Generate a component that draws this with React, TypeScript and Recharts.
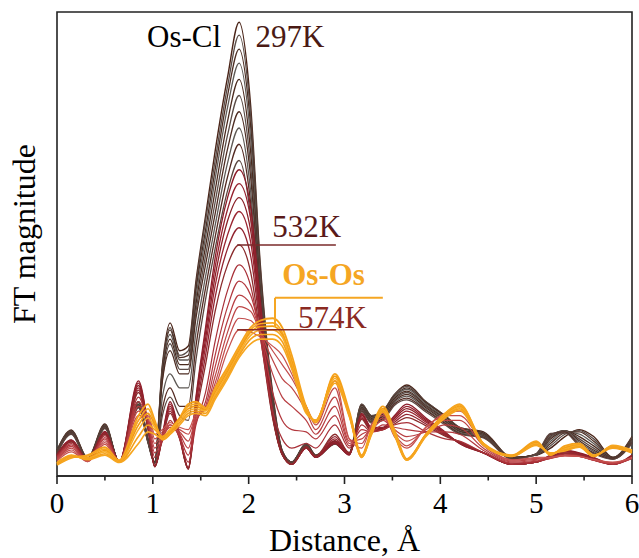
import React from 'react';
import { LineChart, Line, XAxis, YAxis, ReferenceArea, ReferenceLine, ReferenceDot } from 'recharts';

// distance grid, Å
const R = [0, 0.15, 0.32, 0.5, 0.65, 0.85, 0.95, 1.02, 1.1, 1.18, 1.28, 1.37, 1.45, 1.55, 1.65, 1.78, 1.9, 2.02, 2.12, 2.25, 2.35, 2.45, 2.6, 2.7, 2.9, 3.05, 3.18, 3.28, 3.4, 3.52, 3.65, 3.85, 4.05, 4.2, 4.45, 4.75, 5.0, 5.15, 5.3, 5.45, 5.6, 5.8, 6.0];

// Os-Cl dominated spectra (297K upward)
const brown1 = [5.6, 9.9, 3.9, 11.2, 3.0, 16, 8, 3, 24, 33, 27, 28, 42, 56, 70, 86, 97.8, 80, 46, 18, 5.5, 3, 7, 4.5, 7.5, 5, 15.5, 13, 14, 17.5, 19.6, 16, 13, 10.5, 9.5, 4, 4.5, 6, 8.5, 10, 8.5, 4, 8.5];
const brown2 = [5.5, 9.8, 3.8, 11, 3, 16, 8, 3, 23.5, 32, 26, 27, 41, 55, 68, 84, 95, 78, 45, 17.5, 5.5, 3, 7, 4.5, 7.5, 5, 15.5, 13, 14, 17.5, 19.3, 16, 13, 10.5, 9.3, 4, 4.5, 6.5, 9, 9.8, 8, 4, 8.3];
const brown3 = [5.4, 9.7, 3.8, 10.9, 3, 15.5, 7.8, 3, 23, 31.5, 25.5, 26, 40, 53, 66, 82, 92, 75.5, 43.5, 17, 5.3, 3, 6.8, 4.4, 7.3, 5, 15.2, 12.8, 13.8, 17.2, 19, 15.8, 12.8, 10.3, 9.2, 4, 4.5, 7, 9.3, 9.5, 7.5, 4, 8];
const brown4 = [5.3, 9.6, 3.7, 10.8, 3, 15.5, 7.7, 3, 22.5, 30.5, 25, 25, 38.5, 51.5, 64, 79.5, 89, 73, 42, 16.8, 5.2, 3, 6.8, 4.3, 7.3, 4.9, 15, 12.6, 13.5, 17, 18.7, 15.5, 12.5, 10.1, 9, 3.9, 4.5, 7.5, 9.5, 9, 7, 3.9, 7.8];
const brown5 = [5.2, 9.5, 3.7, 10.7, 3, 15.3, 7.6, 3, 22, 29.5, 24, 24, 37, 49.5, 61.5, 76.5, 85.5, 70, 40.5, 16.5, 5.1, 3, 6.7, 4.3, 7.2, 4.9, 14.8, 12.4, 13.3, 16.7, 18.3, 15.2, 12.3, 10, 8.9, 3.9, 4.6, 8, 9.7, 8.5, 6.5, 3.9, 7.6];
const brown6 = [5.1, 9.4, 3.6, 10.6, 3, 15.2, 7.5, 2.9, 21, 28.5, 23, 23, 35.5, 47.5, 59, 73.5, 82, 67, 39, 16.2, 5, 3, 6.7, 4.2, 7.1, 4.8, 14.6, 12.2, 13, 16.4, 18, 15, 12, 9.8, 8.8, 3.8, 4.6, 8.3, 9.8, 8, 6, 3.8, 7.5];
const brown7 = [5, 9.3, 3.6, 10.5, 3, 15, 7.4, 2.9, 20.5, 27, 22, 22, 34, 45.5, 56.5, 70.5, 78.5, 64.5, 37.5, 16, 5, 3, 6.6, 4.2, 7.1, 4.8, 14.4, 12, 12.8, 16.1, 17.6, 14.7, 11.8, 9.6, 8.6, 3.8, 4.7, 8.6, 9.8, 7.6, 5.6, 3.8, 7.3];
const brown8 = [4.9, 9.2, 3.5, 10.4, 3, 15, 7.3, 2.8, 17, 22, 19, 19, 31, 43, 54, 67.5, 75, 61.5, 36, 15.8, 4.9, 3, 6.6, 4.1, 7, 4.7, 14.2, 11.8, 12.5, 15.8, 17.2, 14.4, 11.5, 9.4, 8.5, 3.7, 4.7, 8.8, 9.7, 7.2, 5.3, 3.7, 7.2];
const brown9 = [4.8, 9.1, 3.5, 10.3, 3, 14.8, 7.2, 2.8, 14.5, 19, 15, 15, 28, 40.5, 51.5, 64.5, 71.5, 59, 34.5, 15.5, 4.8, 3, 6.5, 4.1, 7, 4.7, 14, 11.6, 12.3, 15.5, 16.8, 14.1, 11.3, 9.2, 8.3, 3.7, 4.8, 9, 9.5, 6.8, 5, 3.7, 7.1];
const brown10 = [4.7, 9, 3.4, 10.2, 3, 14.7, 7.1, 2.7, 13, 17, 13, 12, 25, 38, 49, 61.5, 68, 56, 33, 15.2, 4.7, 3, 6.5, 4, 6.9, 4.6, 13.8, 11.4, 12, 15.2, 16.4, 13.8, 11, 9, 8.2, 3.6, 4.8, 9.2, 9.3, 6.5, 4.8, 3.6, 7];

// up to 532K, then the transition towards 574K
const red1 = [4.6, 7.8, 3.5, 9.6, 3, 20.5, 11, 2.2, 9, 16, 9, 1.8, 17, 32, 47, 60, 66, 58, 38, 14, 5, 2.5, 6, 4, 7, 4.5, 13.5, 10.5, 10.5, 13, 15.5, 12.5, 9.5, 7, 5, 2.5, 3, 4.5, 5.5, 5, 4, 2.5, 4.5];
const red2 = [4.5, 7.7, 3.4, 9.5, 3, 20, 10.8, 2.1, 8.8, 15.5, 8.8, 1.7, 16.5, 31, 45, 57.5, 63, 55.5, 36.5, 13.5, 4.8, 2.5, 6, 4, 7.3, 4.6, 13.3, 10.3, 10.3, 12.7, 15, 12.2, 9.3, 7, 5, 2.5, 3, 4.4, 5.4, 4.9, 3.9, 2.5, 4.4];
const red3 = [4.5, 7.6, 3.4, 9.4, 3, 19.5, 10.6, 2.1, 8.6, 15, 8.6, 1.6, 16, 29.5, 43, 55, 60, 53, 35, 13.2, 4.7, 2.5, 6, 4.1, 7.6, 4.7, 13.1, 10.2, 10.2, 12.4, 14.5, 11.9, 9.1, 7.1, 5, 2.5, 3, 4.3, 5.3, 4.8, 3.8, 2.5, 4.3];
const red4 = [4.4, 7.5, 3.4, 9.3, 3, 19, 10.4, 2, 8.4, 14.5, 8.4, 1.6, 15, 28, 41, 52, 57, 50.5, 33.5, 13, 4.7, 2.5, 6, 4.1, 8, 4.8, 12.8, 10, 10, 12, 14, 11.6, 9, 7.2, 5, 2.5, 3, 4.2, 5.2, 4.7, 3.7, 2.5, 4.2];
const red5 = [4.4, 7.4, 3.3, 9.2, 3, 18.5, 10.2, 2, 8.2, 14, 8.2, 1.5, 14, 26, 38.5, 49, 53.5, 47.5, 32, 12.8, 4.6, 2.5, 6.2, 4.2, 8.5, 4.9, 12.5, 9.8, 10, 11.6, 13.3, 11.2, 8.8, 7.3, 5, 2.5, 3, 4.1, 5, 4.6, 3.6, 2.5, 4.1];
const red532 = [4.3, 7.3, 3.3, 9, 3, 18, 10, 2, 8, 13.5, 8, 1.5, 13, 24, 35.5, 45.5, 49.8, 44, 30.5, 12.5, 4.6, 2.6, 6.3, 4.3, 9, 5, 12.2, 9.6, 10, 11.2, 12.6, 10.8, 8.6, 7.4, 5, 2.5, 3, 4, 4.9, 4.5, 3.5, 2.5, 4];
const red7 = [4.2, 7, 3.3, 8.7, 3, 17, 11, 4, 7.5, 12, 8, 3, 11, 18, 29, 40, 45.5, 41, 30, 14, 8, 6, 7, 6, 11, 6, 11, 9.5, 10, 11, 11.5, 9.5, 8, 7.5, 5, 2.5, 3, 3.9, 4.7, 4.4, 3.4, 2.5, 3.9];
const red8 = [4, 6.7, 3.3, 8.3, 3, 16, 11.5, 5, 8, 11, 8.5, 4.5, 11.5, 16, 26, 36.5, 42, 39, 31, 18, 12, 10, 9.5, 8, 13, 6.5, 10, 9.5, 11, 10.5, 10, 9.5, 9.5, 9, 5.5, 2.8, 3.2, 3.8, 4.5, 4.3, 3.4, 2.6, 3.8];
const red9 = [3.8, 6.4, 3.2, 8, 3, 15, 12, 6, 8.5, 10.5, 9, 6, 12, 15, 23.5, 33.5, 39, 37, 31, 22, 17, 15, 12, 9, 15, 7, 9, 10, 12, 10, 8.5, 9.5, 11, 10.5, 6, 3, 3.4, 3.8, 4.4, 4.2, 3.4, 2.7, 3.8];
const red10 = [3.6, 6, 3.2, 7.6, 3, 14, 12.5, 7, 9, 10.5, 9.5, 7.5, 12.5, 14.5, 21.5, 31, 36.5, 35.5, 31, 25, 21, 19, 14, 10, 17, 7.5, 8, 10.5, 12.5, 9.5, 7.5, 10, 12, 12, 6.5, 3.2, 3.6, 3.9, 4.4, 4.2, 3.5, 2.8, 3.9];
const red11 = [3.4, 5.6, 3.1, 7.2, 3, 13, 13, 8, 9.5, 11, 10, 9, 13, 14.5, 20, 29, 34, 33.5, 31, 27, 24, 21, 15, 11, 19, 8, 7, 11, 13, 9, 6.5, 10.5, 13, 13, 7, 3.4, 3.8, 4, 4.4, 4.2, 3.5, 2.9, 4];
const red574 = [3.2, 5.2, 3.1, 6.8, 3, 12, 13.5, 9, 10, 11.5, 10.5, 10, 13.5, 14.5, 19, 27, 31.5, 31, 30, 28, 26, 22, 15, 11.5, 20.5, 8, 6, 11, 13.5, 8.5, 6, 10.5, 13.5, 14, 7, 3.5, 4, 4.1, 4.4, 4.2, 3.6, 3, 4];

// Os-Os dominated spectra
const orange1 = [2.4, 3.9, 4.5, 6.2, 3.4, 13, 15.5, 12, 7.8, 9, 12.5, 15.5, 16, 14.7, 19, 23.5, 28, 32, 33.5, 34, 32, 26, 15, 11.5, 22, 14, 4.5, 10, 15, 10, 3.7, 9, 13.5, 15.5, 7, 4.5, 7.5, 4.5, 6.5, 7, 4.5, 6, 5];
const orange2 = [2.5, 4, 4.3, 5.8, 3.3, 12, 14.5, 11.5, 8, 9.5, 12.5, 15, 15.5, 14.5, 18.5, 23, 27.5, 31.5, 32.8, 33, 31, 25, 14.5, 11.8, 21.5, 13.5, 4.3, 9.5, 14.5, 9.5, 3.6, 9, 13.5, 15.3, 7, 4.4, 7.3, 4.6, 6.2, 6.8, 4.4, 6.2, 5.2];
const orange3 = [2.6, 4.2, 4, 5.5, 3.2, 11, 13.5, 11, 8.3, 10, 12.5, 14.5, 15, 14.2, 18, 22.5, 27, 31, 32.2, 32.3, 30.5, 24.5, 14.2, 12, 21.5, 13.5, 4.2, 9.5, 14.5, 9.3, 3.6, 9, 13.2, 15, 6.8, 4.4, 7.2, 4.7, 6, 6.6, 4.3, 6.3, 5.3];
const orange4 = [2.7, 4.3, 3.8, 5.2, 3.1, 10, 12.5, 10.5, 8.5, 10, 12, 14, 14.5, 14, 17.5, 22, 26.5, 30.3, 31.4, 31.5, 30, 24, 14, 12, 21, 13.2, 4.1, 9.2, 14.2, 9.2, 3.5, 8.8, 13, 14.8, 6.8, 4.3, 7, 4.8, 5.8, 6.5, 4.3, 6.4, 5.4];
const orange5 = [2.8, 4.4, 3.6, 4.8, 3, 8.5, 11, 10, 8.5, 9.5, 11.5, 13.5, 14, 13.5, 17, 21.5, 26, 29.5, 30.5, 30.5, 29, 23.5, 13.8, 12, 20.5, 13, 4, 9, 14, 9, 3.5, 8.7, 12.8, 14.5, 6.7, 4.3, 6.8, 4.9, 5.6, 6.3, 4.2, 6.5, 5.5];
const orange6 = [2.9, 4.5, 3.5, 4.5, 2.9, 7, 9.5, 9, 8, 9, 11, 13, 13.5, 13, 16.5, 21, 25.5, 28.5, 29.5, 29.5, 28, 23, 13.5, 12, 20, 12.8, 4, 8.8, 13.8, 8.8, 3.4, 8.5, 12.5, 14.2, 6.6, 4.2, 6.6, 5, 5.4, 6.2, 4.2, 6.6, 5.6];

const xTicks = [0, 0.5, 1, 1.5, 2, 2.5, 3, 3.5, 4, 4.5, 5, 5.5, 6];

const series = [
  { key: 'b1', values: brown1, color: '#4a2418', width: 1.4 },
  { key: 'b2', values: brown2, color: '#5a4d48', width: 1.3 },
  { key: 'b3', values: brown3, color: '#4c2d22', width: 1.3 },
  { key: 'b4', values: brown4, color: '#5f5a56', width: 1.3 },
  { key: 'b5', values: brown5, color: '#4a2a1e', width: 1.3 },
  { key: 'b6', values: brown6, color: '#5a4c47', width: 1.3 },
  { key: 'b7', values: brown7, color: '#4d2c22', width: 1.3 },
  { key: 'b8', values: brown8, color: '#5e5955', width: 1.3 },
  { key: 'b9', values: brown9, color: '#532a22', width: 1.3 },
  { key: 'b10', values: brown10, color: '#5b4640', width: 1.3 },
  { key: 'r1', values: red1, color: '#8c1d2a', width: 1.3 },
  { key: 'r2', values: red2, color: '#96222f', width: 1.3 },
  { key: 'r3', values: red3, color: '#8a2028', width: 1.3 },
  { key: 'r4', values: red4, color: '#9b2632', width: 1.3 },
  { key: 'r5', values: red5, color: '#922430', width: 1.3 },
  { key: 'r6', values: red532, color: '#8b2b2c', width: 1.3 },
  { key: 'r7', values: red7, color: '#a83038', width: 1.2 },
  { key: 'r8', values: red8, color: '#b2373d', width: 1.2 },
  { key: 'r9', values: red9, color: '#b83e42', width: 1.2 },
  { key: 'r10', values: red10, color: '#bd4546', width: 1.2 },
  { key: 'r11', values: red11, color: '#c24b4b', width: 1.2 },
  { key: 'r12', values: red574, color: '#c7524f', width: 1.2 },
  { key: 'o1', values: orange1, color: '#f5a21c', width: 1.8 },
  { key: 'o2', values: orange2, color: '#f7a823', width: 1.6 },
  { key: 'o3', values: orange3, color: '#f39c12', width: 1.6 },
  { key: 'o4', values: orange4, color: '#f8ad2b', width: 1.6 },
  { key: 'o5', values: orange5, color: '#f4a01a', width: 1.6 },
  { key: 'o6', values: orange6, color: '#f6a620', width: 1.6 },
];

const rows = R.map((r, i) => {
  const row: any = { r };
  series.forEach((s) => { row[s.key] = s.values[i]; });
  return row;
});

const FONT = 'Liberation Serif, DejaVu Serif, serif';

const XTick = (props: any) => {
  const { x, y, payload } = props;
  const major = Number.isInteger(payload.value);
  return (
    <g>
      <line x1={x} x2={x} y1={y} y2={y + (major ? 8 : 4.5)} stroke="#222" strokeWidth={1.6} />
      {major && (
        <text x={x} y={y + 37} textAnchor="middle" style={{ fontFamily: FONT, fontSize: 29 }} fill="#000">
          {payload.value}
        </text>
      )}
    </g>
  );
};

const note = (text: string, color: string, bold = false) => (p: any) => (
  <text x={p.cx} y={p.cy} style={{ fontFamily: FONT, fontSize: 31, fontWeight: bold ? 'bold' : 'normal' }} fill={color}>
    {text}
  </text>
);

export default function App() {
  return (
    <div style={{ position: 'absolute', left: 0, top: 0, background: '#fff' }}>
      <LineChart width={639} height={558} data={rows} margin={{ top: 12, right: 7, left: 0, bottom: 0 }}>
        <XAxis
          dataKey="r"
          type="number"
          domain={[0, 6]}
          ticks={xTicks}
          interval={0}
          tickLine={false}
          tickSize={0}
          tickMargin={0}
          tick={<XTick />}
          axisLine={{ stroke: '#222', strokeWidth: 1.6 }}
          height={82}
          label={{
            content: (p: any) => (
              <text x={p.viewBox.x + p.viewBox.width / 2} y={p.viewBox.y + 75} textAnchor="middle" style={{ fontFamily: FONT, fontSize: 32 }} fill="#000">
                Distance, Å
              </text>
            ),
          }}
        />
        <YAxis
          type="number"
          domain={[0, 100]}
          width={57}
          tick={false}
          tickLine={false}
          axisLine={false}
          label={{
            content: (p: any) => {
              const cx = p.viewBox.x + 24;
              const cy = p.viewBox.y + p.viewBox.height / 2 - 10;
              return (
                <text x={cx} y={cy} transform={`rotate(-90 ${cx} ${cy})`} textAnchor="middle" dominantBaseline="central" style={{ fontFamily: FONT, fontSize: 32 }} fill="#000">
                  FT magnitude
                </text>
              );
            },
          }}
        />
        <ReferenceArea x1={0} x2={6} y1={0} y2={100} fill="none" stroke="#222" strokeWidth={1.6} />
        {series.map((s) => (
          <Line
            key={s.key}
            type="monotone"
            dataKey={s.key}
            stroke={s.color}
            strokeWidth={s.width}
            dot={false}
            activeDot={false}
            isAnimationActive={false}
          />
        ))}
        <ReferenceLine segment={[{ x: 1.88, y: 49.8 }, { x: 2.91, y: 49.8 }]} stroke="#7a2a2a" strokeWidth={1.5} />
        <ReferenceLine segment={[{ x: 1.88, y: 31.5 }, { x: 2.91, y: 31.5 }]} stroke="#8b2a22" strokeWidth={1.5} />
        <ReferenceLine segment={[{ x: 2.275, y: 32.1 }, { x: 2.275, y: 38.4 }]} stroke="#f5a623" strokeWidth={2} />
        <ReferenceLine segment={[{ x: 2.275, y: 38.4 }, { x: 3.4, y: 38.4 }]} stroke="#f5a623" strokeWidth={2} />
        <ReferenceDot x={0.94} y={92.5} r={0} shape={note('Os-Cl', '#000')} />
        <ReferenceDot x={2.07} y={92.5} r={0} shape={note('297K', '#4a1a14')} />
        <ReferenceDot x={2.245} y={51.5} r={0} shape={note('532K', '#5a1a1a')} />
        <ReferenceDot x={2.35} y={41.2} r={0} shape={note('Os-Os', '#f5a623', true)} />
        <ReferenceDot x={2.515} y={31.9} r={0} shape={note('574K', '#8b2a22')} />
      </LineChart>
    </div>
  );
}
